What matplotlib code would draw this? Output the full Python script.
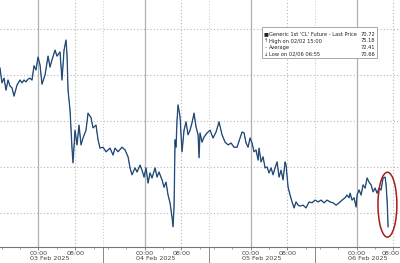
import matplotlib
matplotlib.use("Agg")
from matplotlib import pyplot as plt
from matplotlib import transforms
from matplotlib.patches import Ellipse, Rectangle

# trading hours since the session open of 02 Feb (23h sessions)
HOURS = [
    0.65, 1.08, 1.52, 1.95, 2.39, 2.82, 3.25, 3.69, 4.34, 4.99, 5.42, 5.86, 6.29, 6.73,
    7.16, 7.59, 8.03, 8.46, 8.90, 9.33, 9.76, 10.42, 11.07, 11.50, 11.93, 12.59, 13.02,
    13.67, 14.10, 14.54, 14.97, 15.19, 15.41, 15.84, 16.27, 16.49, 16.93, 17.36, 17.79,
    18.23, 18.66, 19.31, 19.75, 20.40, 20.83, 21.48, 21.92, 22.35, 23.00, 23.65, 24.52,
    25.17, 25.61, 26.26, 27.12, 27.78, 28.43, 28.86, 29.29, 29.95, 30.38, 31.03, 31.46,
    31.90, 32.33, 32.77, 33.20, 33.63, 34.29, 34.72, 35.15, 35.80, 36.24, 36.67, 37.11,
    37.54, 37.97, 38.19, 38.41, 38.63, 38.84, 39.06, 39.28, 39.71, 40.14, 40.58, 41.01,
    41.45, 41.88, 42.31, 42.75, 43.18, 43.62, 43.83, 44.05, 44.48, 44.92, 45.57, 46.22,
    46.87, 47.52, 48.17, 48.82, 49.48, 50.13, 50.78, 51.43, 52.08, 52.73, 53.16, 53.60,
    54.03, 54.47, 54.90, 55.33, 55.77, 56.20, 56.64, 56.85, 57.29, 57.72, 58.16, 58.59,
    59.02, 59.46, 59.89, 60.33, 60.76, 61.19, 61.63, 62.06, 62.50, 62.71, 63.15, 63.58,
    64.01, 64.45, 64.88, 65.32, 65.75, 66.40, 67.05, 67.70, 68.35, 69.01, 69.66, 70.31,
    70.96, 71.61, 72.26, 72.91, 73.56, 74.21, 74.86, 75.52, 75.95, 76.38, 76.60, 77.03,
    77.47, 77.90, 78.12, 78.55, 78.99, 79.42, 79.86, 80.29, 80.72, 81.16, 81.59, 82.03,
    82.46, 82.89, 83.33, 83.76, 84.20, 84.41, 84.63, 84.85,
]
PRICE = [
    74.15, 73.83, 73.93, 73.67, 73.89, 73.76, 73.72, 73.54, 73.78, 73.89, 73.83, 73.89, 73.85, 73.91,
    73.93, 73.89, 74.20, 74.11, 74.39, 74.22, 73.80, 74.00, 74.41, 74.17, 74.33, 74.54, 74.41,
    74.50, 73.89, 74.54, 74.76, 74.43, 73.67, 73.24, 72.41, 72.09, 72.80, 72.48, 72.91,
    72.48, 72.63, 72.80, 73.17, 73.07, 72.85, 72.91, 72.59, 72.41, 72.43, 72.33, 72.41,
    72.26, 72.41, 72.33, 72.43, 72.37, 72.22, 71.98, 71.83, 71.98, 71.89, 72.04, 71.93,
    71.78, 71.98, 71.65, 71.87, 71.76, 71.98, 71.78, 71.89, 71.72, 71.56, 71.67, 71.39,
    71.22, 70.91, 70.70, 71.13, 72.59, 72.43, 73.02, 73.35, 73.09, 72.33, 72.80, 72.98,
    72.70, 72.80, 72.96, 73.17, 72.87, 72.70, 72.20, 72.74, 72.54, 72.65, 72.74, 72.80,
    72.63, 72.76, 72.98, 72.70, 72.54, 72.48, 72.52, 72.43, 72.43, 72.63, 72.76, 72.74,
    72.52, 72.43, 72.63, 72.52, 72.33, 72.37, 72.15, 72.41, 72.11, 72.22, 71.98, 72.00,
    71.87, 71.98, 71.83, 71.98, 72.11, 71.78, 71.93, 71.72, 72.11, 72.04, 71.56, 71.39,
    71.24, 71.11, 71.24, 71.17, 71.15, 71.17, 71.11, 71.24, 71.22, 71.28, 71.24, 71.28,
    71.22, 71.28, 71.24, 71.22, 71.17, 71.22, 71.28, 71.33, 71.39, 71.33, 71.43, 71.28,
    71.33, 71.13, 71.39, 71.50, 71.39, 71.61, 71.54, 71.76, 71.67, 71.61, 71.46, 71.54,
    71.43, 71.54, 71.50, 71.76, 71.78, 71.61, 71.28, 70.70,
]

SESSION_LEN = 23.0
DAYS = ["03 Feb 2025", "04 Feb 2025", "05 Feb 2025", "06 Feb 2025"]
MIDNIGHT_OFFSET = 9.0
MORNING_OFFSET = 17.0
Y_GRID = [71, 72, 73, 74, 75]
XLIM = (0.65, 87.43)
YLIM = (70.26, 75.63)

LEGEND_LABELS = [
    "Generic 1st 'CL' Future - Last Price",
    "High on 02/02 15:00",
    "Average",
    "Low on 02/06 06:55",
]
LEGEND_VALUES = ["70.72", "75.18", "72.41", "70.66"]
LEGEND_MARKS = ["\u25a0", "\u2191", "-", "\u2193"]


def main():
    fig = plt.figure(figsize=(4.0, 2.63), dpi=100)
    ax = fig.add_axes([0, 16 / 263, 1, 247 / 263])

    for sp in ["top", "left", "right"]:
        ax.spines[sp].set_visible(False)
    ax.spines["bottom"].set_color("#777777")
    ax.spines["bottom"].set_linewidth(0.8)
    ax.set_yticks([])

    for y in Y_GRID:
        ax.axhline(y, color="#b5b5b5", lw=0.8, ls=(0, (1, 2)), zorder=0)

    major = []
    labels = []
    for k in range(len(DAYS)):
        s = k * SESSION_LEN
        ax.axvline(s + MIDNIGHT_OFFSET, color="#b0b0b0", lw=0.9, zorder=0)
        ax.axvline(s + MORNING_OFFSET, color="#b5b5b5", lw=0.8, ls=(0, (1, 2)), zorder=0)
        if k > 0:
            ax.axvline(s, color="#c5c5c5", lw=0.7, ls=(0, (1, 2)), zorder=0)
        major += [s + MIDNIGHT_OFFSET, s + MORNING_OFFSET]
        labels += ["00:00", "08:00"]
    ax.set_xticks(major)
    ax.set_xticklabels(labels, fontsize=4.6, color="#444444")
    ax.tick_params(axis="x", length=2, width=0.6, color="#777777", pad=1)
    minor = [k * SESSION_LEN + off for k in range(4) for off in (1.0, 5.0, 13.0, 21.0)]
    minor = [m for m in minor if XLIM[0] < m < XLIM[1]]
    ax.set_xticks(minor, minor=True)
    ax.tick_params(axis="x", which="minor", length=1.5, width=0.5, color="#777777")

    # last tick label sits on the right edge, keep it inside the picture
    last = ax.get_xticklabels()[-1]
    last.set_horizontalalignment("right")
    last.set_transform(last.get_transform()
                       + transforms.ScaledTranslation(6.5 / 100, 0, fig.dpi_scale_trans))

    trans = transforms.blended_transform_factory(ax.transData, ax.transAxes)
    for k, day in enumerate(DAYS):
        s = k * SESSION_LEN
        ax.text(s + SESSION_LEN / 2, -0.048, day, transform=trans, ha="center",
                va="center", fontsize=4.6, color="#444444", clip_on=False)
        if k > 0:
            ax.plot([s, s], [0, -0.07], transform=trans, color="#888888", lw=0.7,
                    clip_on=False)

    ax.plot(HOURS, PRICE, color="#4a7fb8", lw=1.0, zorder=2)
    ax.plot(HOURS, PRICE, color="#1a2b40", lw=0.45, zorder=3)

    ax.add_patch(Ellipse((84.7, 71.18), 4.1, 1.41, fill=False, ec="#a51d1d", lw=1.1,
                         zorder=4))

    # limits last: set_xticks may widen the view
    ax.set_xlim(*XLIM)
    ax.set_ylim(*YLIM)

    # legend box in figure pixels
    box = Rectangle((262 / 400, 1 - 58 / 263), 115 / 400, 31 / 263, transform=fig.transFigure,
                    facecolor="white", edgecolor="#999999", lw=0.6, zorder=5)
    fig.patches.append(box)
    ys = [34, 41, 47.5, 54]
    for mark, lab, val, yp in zip(LEGEND_MARKS, LEGEND_LABELS, LEGEND_VALUES, ys):
        yf = 1 - yp / 263
        fig.text(266 / 400, yf, mark, fontsize=3.7, ha="center", va="center", color="#222222",
                 zorder=6)
        fig.text(269 / 400, yf, lab, fontsize=3.7, ha="left", va="center", color="#222222",
                 zorder=6)
        fig.text(375 / 400, yf, val, fontsize=3.7, ha="right", va="center", color="#222222",
                 zorder=6)

    fig.savefig("out.png", dpi=100)


if __name__ == "__main__":
    main()
